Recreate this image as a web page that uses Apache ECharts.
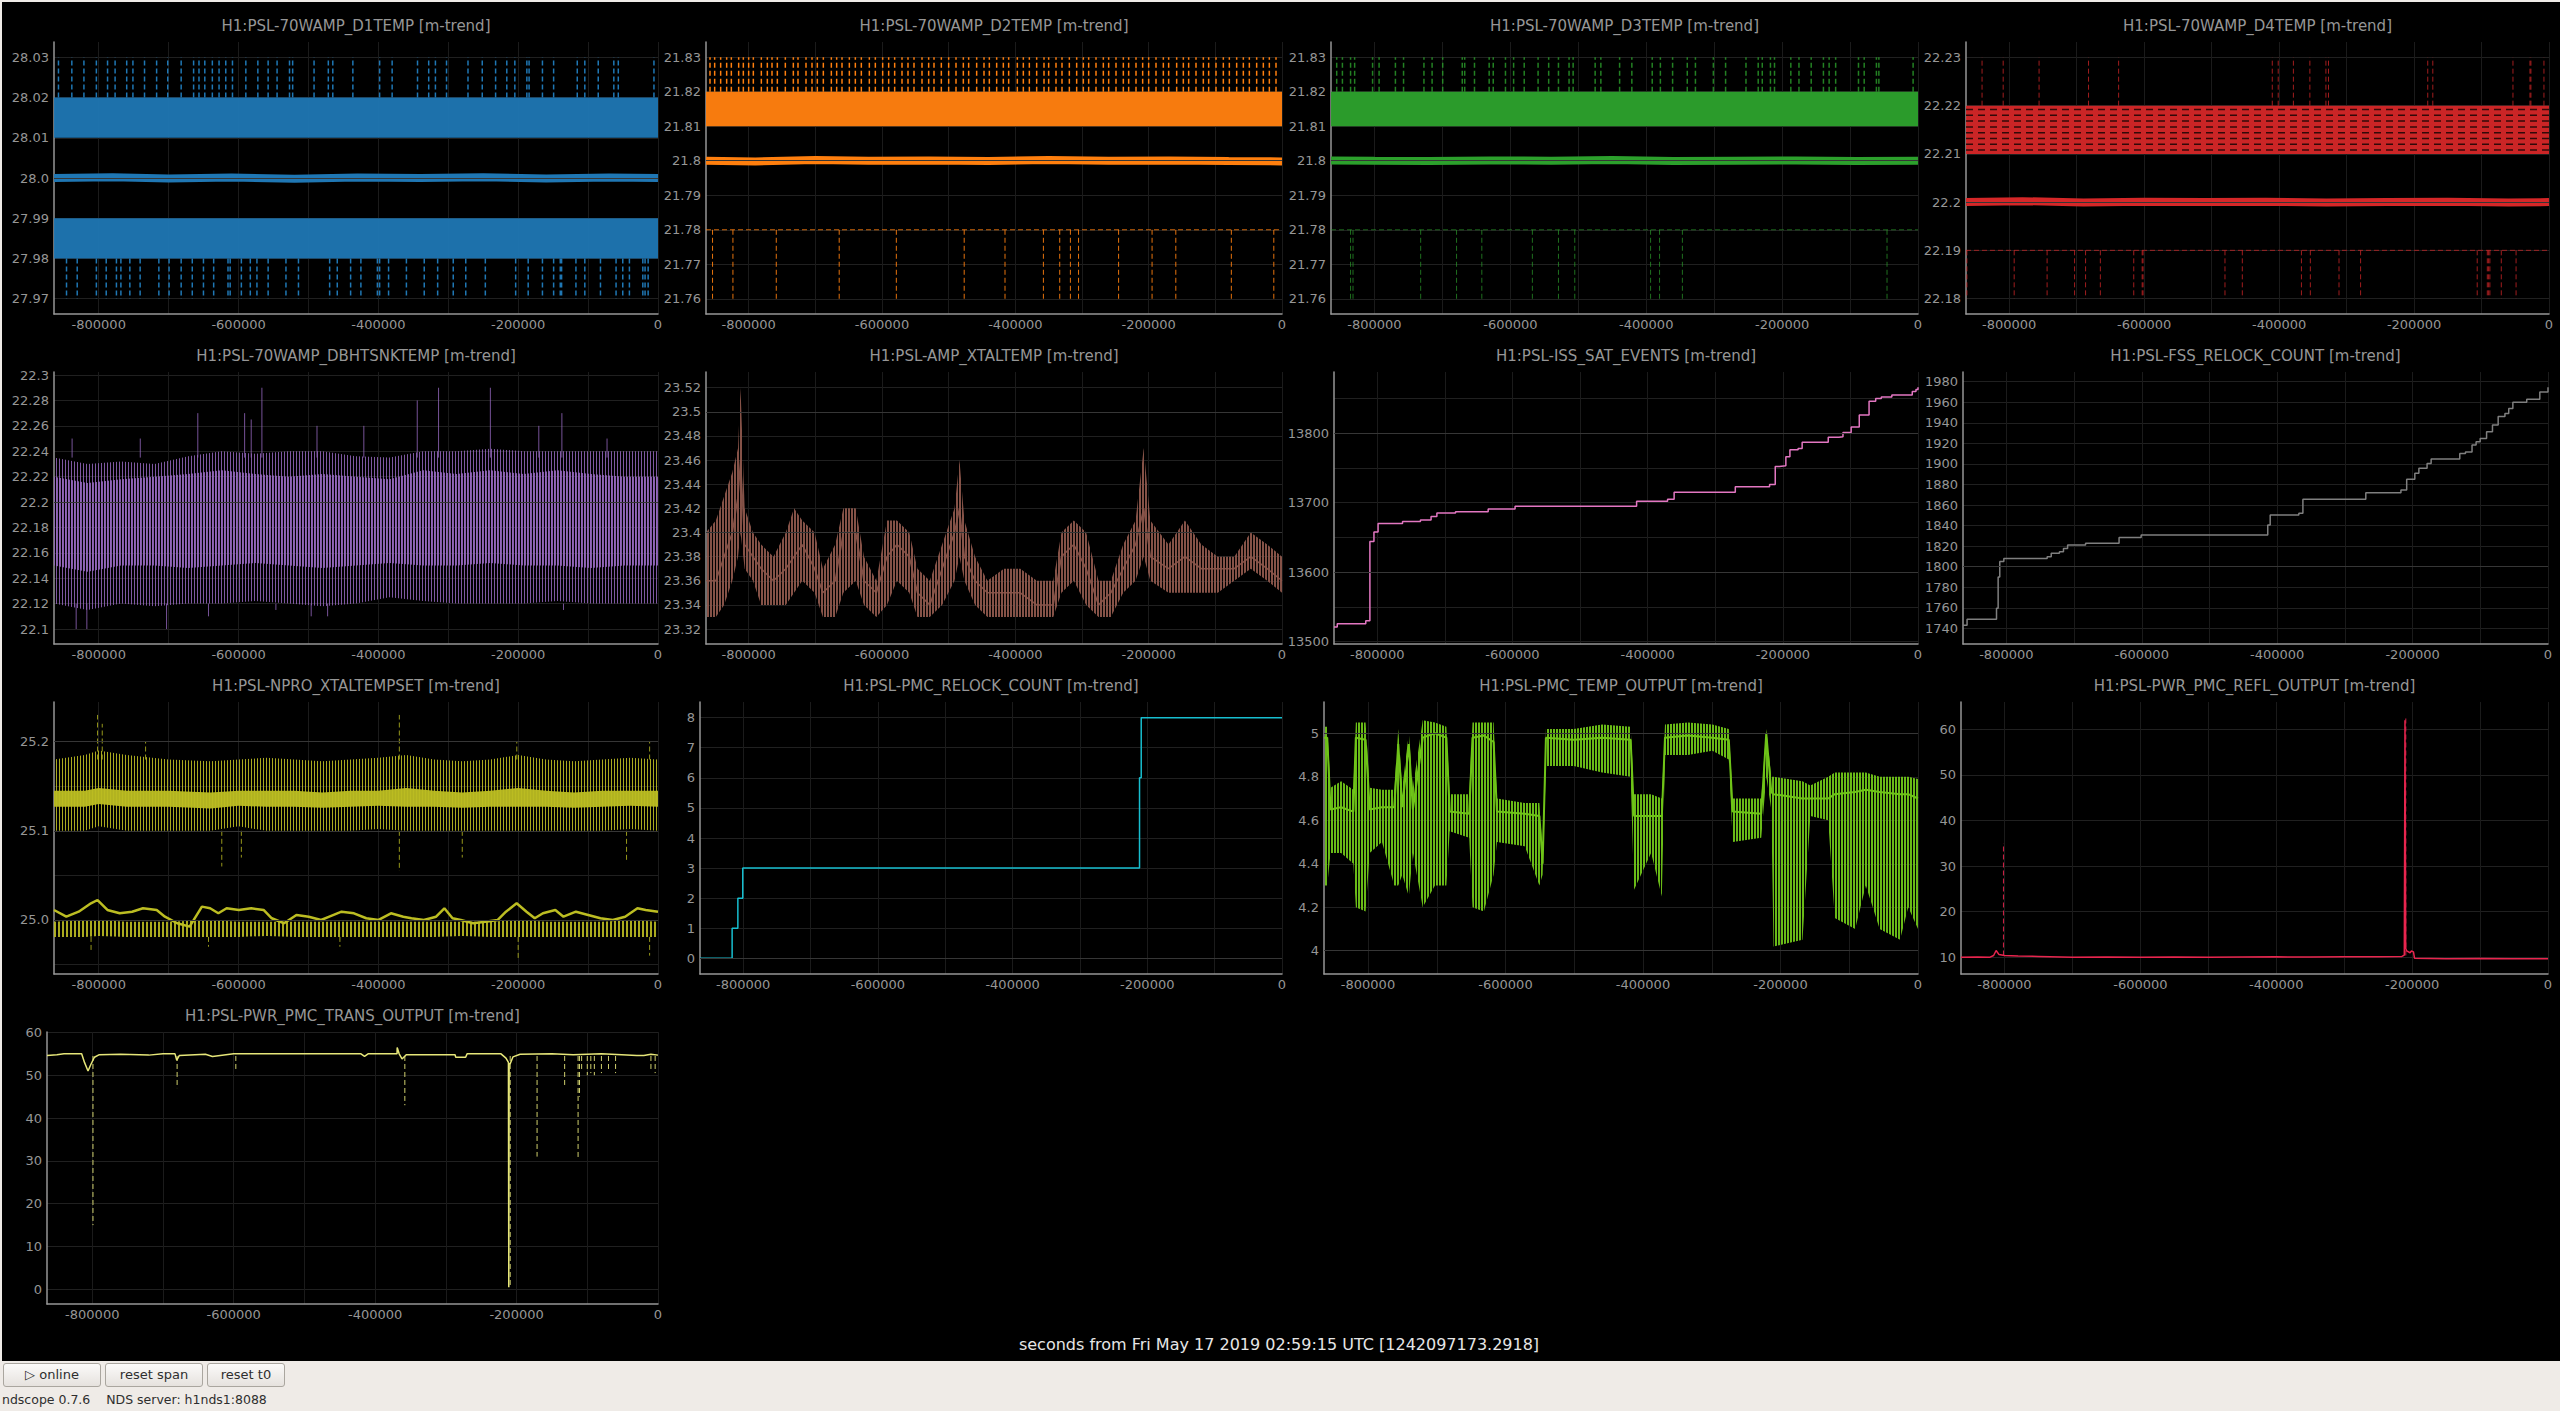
<!DOCTYPE html>
<html>
<head>
<meta charset="utf-8">
<title>ndscope</title>
<script src="https://cdn.jsdelivr.net/npm/echarts@6/dist/echarts.min.js"></script>
<style>
html, body { margin: 0; padding: 0; background: #efebe7; overflow: hidden; width: 2560px; height: 1411px; }
#chart { position: absolute; left: 2px; top: 2px; width: 2558px; height: 1359px; background: #000; }
#bar { position: absolute; left: 0; top: 1361px; width: 2560px; height: 50px; font-family: "DejaVu Sans", sans-serif; font-size: 13px; color: #2e2e2e; }
.btn { position: absolute; top: 2px; height: 24px; line-height: 22px; text-align: center; box-sizing: border-box;
       border: 1px solid #aaa69f; border-radius: 3px; background: linear-gradient(#fbfaf9, #e6e2de); }
#status { position: absolute; left: 2px; top: 31px; font-size: 12.5px; white-space: pre; }
</style>
</head>
<body>
<div id="chart"></div>
<div id="bar">
  <div class="btn" style="left:3px;width:98px">&#9655; online</div>
  <div class="btn" style="left:105px;width:98px">reset span</div>
  <div class="btn" style="left:207px;width:78px">reset t0</div>
  <div id="status">ndscope 0.7.6    NDS server: h1nds1:8088</div>
</div>
<script>
// time span: last 10 days, seconds from t0
const XMIN = -864000, XMAX = 0;
const xTicks = [-800000, -600000, -400000, -200000, 0];
const xGrid = [-800000, -700000, -600000, -500000, -400000, -300000, -200000, -100000, 0];

const titles = [
    'H1:PSL-70WAMP_D1TEMP [m-trend]', 'H1:PSL-70WAMP_D2TEMP [m-trend]',
    'H1:PSL-70WAMP_D3TEMP [m-trend]', 'H1:PSL-70WAMP_D4TEMP [m-trend]',
    'H1:PSL-70WAMP_DBHTSNKTEMP [m-trend]', 'H1:PSL-AMP_XTALTEMP [m-trend]',
    'H1:PSL-ISS_SAT_EVENTS [m-trend]', 'H1:PSL-FSS_RELOCK_COUNT [m-trend]',
    'H1:PSL-NPRO_XTALTEMPSET [m-trend]', 'H1:PSL-PMC_RELOCK_COUNT [m-trend]',
    'H1:PSL-PMC_TEMP_OUTPUT [m-trend]', 'H1:PSL-PWR_PMC_REFL_OUTPUT [m-trend]',
    'H1:PSL-PWR_PMC_TRANS_OUTPUT [m-trend]'
];
const xLabel = 'seconds from Fri May 17 2019 02:59:15 UTC [1242097173.2918]';

// y tick labels per panel
const y1Ticks = [27.97, 27.98, 27.99, 28.0, 28.01, 28.02, 28.03];
const y2Ticks = [21.76, 21.77, 21.78, 21.79, 21.8, 21.81, 21.82, 21.83];
const y3Ticks = [21.76, 21.77, 21.78, 21.79, 21.8, 21.81, 21.82, 21.83];
const y4Ticks = [22.18, 22.19, 22.2, 22.21, 22.22, 22.23];
const y5Ticks = [22.1, 22.12, 22.14, 22.16, 22.18, 22.2, 22.22, 22.24, 22.26, 22.28, 22.3];
const y6Ticks = [23.32, 23.34, 23.36, 23.38, 23.4, 23.42, 23.44, 23.46, 23.48, 23.5, 23.52];
const y7Ticks = [13500, 13600, 13700, 13800];
const y8Ticks = [1740, 1760, 1780, 1800, 1820, 1840, 1860, 1880, 1900, 1920, 1940, 1960, 1980];
const y9Ticks = [25.0, 25.1, 25.2];
const y10Ticks = [0, 1, 2, 3, 4, 5, 6, 7, 8];
const y11Ticks = [4, 4.2, 4.4, 4.6, 4.8, 5];
const y12Ticks = [10, 20, 30, 40, 50, 60];
const y13Ticks = [0, 10, 20, 30, 40, 50, 60];
// fainter half-step grid lines and brighter major grid lines
const y7Minor = [13550, 13650, 13750, 13850];
const y9Minor = [24.95, 25.05, 25.15];
const yMajor = [[28.0], [21.8], [21.8], [22.2], [22.2], [23.4, 23.5], [13600, 13800], [1800], [25.0, 25.1, 25.2],
    [0], [4, 5], [], []];

// ---- D1TEMP
const d1MaxBand = [28.01, 28.02];
const d1MinBand = [27.98, 27.99];
const d1Mean = [[-864000, 28.0], [-780000, 28.0002], [-700000, 27.9999], [-610000, 28.0001], [-520000, 27.9998],
    [-430000, 28.0001], [-340000, 28.0], [-250000, 28.0002], [-160000, 27.9999], [-70000, 28.0001], [0, 28.0]];
const d1UpSpikes = [-857600, -838500, -821200, -803400, -787400, -776600, -760000, -751100, -734500, -717200,
    -701300, -682100, -664300, -656600, -648300, -637500, -627900, -618300, -608700, -589600, -572400, -557700,
    -544900, -527100, -522600, -492000, -471600, -465200, -436500, -398200, -380300, -344000, -328000, -318400,
    -302500, -271800, -251400, -232300, -216300, -204800, -187600, -184400, -165300, -149300, -115500, -104700,
    -85500, -63200, -56800, -5800];
const d1DownSpikes = [-846100, -830800, -803400, -789300, -774700, -768300, -755500, -740800, -714000, -699400,
    -682100, -666200, -650200, -635600, -615100, -612000, -596000, -583200, -573700, -557700, -532200, -514300,
    -469700, -458800, -439700, -425000, -401400, -398200, -385400, -359900, -334400, -315200, -292900, -275000,
    -247000, -203600, -185700, -165300, -149300, -139800, -137900, -117400, -104700, -82300, -60000, -50400,
    -40900, -21700, -18500, -14100];

// ---- D2TEMP
const d2MaxBand = [21.81, 21.82];
const d2Top = 21.83;
const d2MinLevel = 21.78;
const d2Bottom = 21.76;
const d2Mean = [[-864000, 21.8], [-790000, 21.7998], [-700000, 21.8002], [-620000, 21.8], [-530000, 21.8001],
    [-440000, 21.7999], [-350000, 21.8002], [-260000, 21.8], [-170000, 21.8001], [-80000, 21.7999], [0, 21.7998]];
const d2UpSpikes = [-858000, -851000, -842000, -833000, -826000, -815000, -808000, -800000, -793000, -781000,
    -772000, -765000, -757000, -745000, -733000, -726000, -714000, -705000, -697000, -688000, -676000, -668000,
    -660000, -649000, -640000, -631000, -619000, -610000, -599000, -590000, -581000, -570000, -561000, -552000,
    -540000, -530000, -522000, -511000, -500000, -489000, -478000, -470000, -458000, -447000, -439000, -428000,
    -418000, -410000, -397000, -388000, -379000, -368000, -357000, -350000, -339000, -330000, -319000, -308000,
    -298000, -290000, -279000, -268000, -260000, -249000, -238000, -230000, -219000, -209000, -200000, -189000,
    -178000, -170000, -158000, -148000, -140000, -129000, -118000, -110000, -99000, -88000, -79000, -68000,
    -58000, -49000, -38000, -28000, -19000, -9000];
const d2DownSpikes = [-854200, -823600, -758600, -664200, -578500, -476700, -415500, -357900, -333400, -317400,
    -305200, -245100, -194900, -159300, -76000, -12300];

// ---- D3TEMP
const d3MaxBand = [21.81, 21.82];
const d3Top = 21.83;
const d3MinLevel = 21.78;
const d3Bottom = 21.76;
const d3Mean = [[-864000, 21.8001], [-800000, 21.8], [-720000, 21.7999], [-630000, 21.8001], [-540000, 21.8],
    [-450000, 21.8002], [-360000, 21.7999], [-270000, 21.8], [-180000, 21.8001], [-90000, 21.7999], [0, 21.8]];
const d3UpSpikes = [-855600, -847200, -835200, -829200, -802800, -793200, -769200, -757200, -727200, -715200,
    -699600, -670800, -667200, -652800, -631200, -625200, -607200, -595200, -579600, -559200, -543600, -529200,
    -513600, -507600, -475200, -466800, -439200, -421200, -391200, -379200, -361200, -339600, -327600, -301200,
    -283200, -253200, -235200, -229200, -217200, -211200, -187200, -175200, -157200, -139200, -130800, -121200,
    -87600, -79200, -61200, -57600, -7200];
const d3DownSpikes = [-835200, -831600, -732000, -679200, -642000, -567600, -529200, -505200, -393600, -380400,
    -346800, -45600];

// ---- D4TEMP
const d4MaxBand = [22.21, 22.22];
const d4Top = 22.23;
const d4MinLevel = 22.19;
const d4Bottom = 22.18;
const d4Mean = [[-864000, 22.2], [-780000, 22.2002], [-690000, 22.1999], [-600000, 22.2001], [-510000, 22.2],
    [-420000, 22.2001], [-330000, 22.1999], [-240000, 22.2], [-150000, 22.2001], [-60000, 22.1999], [0, 22.2]];
const d4UpSpikes = [-840200, -808900, -755700, -682400, -637800, -410100, -401300, -378800, -354400, -330600,
    -326800, -179700, -172200, -53400, -28200, -26800, -7500];
const d4DownSpikes = [-862700, -792600, -743800, -703100, -686800, -664900, -615400, -602900, -601600, -480200,
    -454500, -366900, -353700, -311200, -279200, -106400, -91400, -89500, -87600, -70700, -48800];
// rows of gaps seen inside the D4 max band
const d4BandGaps = [22.2192, 22.2180, 22.2168, 22.2156, 22.2144, 22.2132, 22.2120, 22.2108];

// ---- DBHTSNKTEMP
const p5X = [-864000, -816000, -768000, -720000, -672000, -624000, -576000, -528000, -480000, -432000,
    -384000, -336000, -288000, -240000, -192000, -144000, -96000, -48000, 0];
const p5Hi = [22.235, 22.23, 22.232, 22.23, 22.236, 22.24, 22.238, 22.24, 22.24, 22.236,
    22.235, 22.24, 22.24, 22.242, 22.24, 22.24, 22.24, 22.24, 22.24];
const p5Lo = [22.12, 22.115, 22.12, 22.118, 22.12, 22.12, 22.122, 22.12, 22.118, 22.12,
    22.125, 22.122, 22.12, 22.12, 22.12, 22.122, 22.12, 22.12, 22.12];
const p5CoreHi = [22.22, 22.215, 22.218, 22.22, 22.222, 22.225, 22.222, 22.22, 22.222, 22.22,
    22.218, 22.225, 22.222, 22.225, 22.222, 22.225, 22.222, 22.22, 22.22];
const p5CoreLo = [22.15, 22.145, 22.15, 22.15, 22.148, 22.15, 22.152, 22.15, 22.148, 22.15,
    22.152, 22.15, 22.15, 22.152, 22.15, 22.15, 22.148, 22.15, 22.15];
const p5UpSpikes = [[-838100, 22.25], [-740600, 22.25], [-658300, 22.27], [-591300, 22.27], [-581900, 22.265],
    [-566600, 22.29], [-487800, 22.26], [-420800, 22.26], [-344400, 22.28], [-313900, 22.29], [-239800, 22.29],
    [-170500, 22.26], [-137500, 22.27], [-72900, 22.25]];
const p5DownSpikes = [[-832300, 22.10], [-817000, 22.10], [-703000, 22.10], [-643000, 22.11], [-546600, 22.115],
    [-496100, 22.11], [-472600, 22.11], [-135200, 22.115]];

// ---- AMP_XTALTEMP
const p6X = [-864000, -849200, -836800, -824500, -815900, -812200, -806000, -793600, -781300, -762800,
    -744300, -731900, -719600, -701100, -688700, -670200, -657900, -639400, -627000, -608500,
    -592500, -577600, -559100, -546800, -528300, -509800, -491200, -483800, -476400, -460400,
    -441900, -417200, -392500, -367800, -343100, -330800, -312300, -293800, -275200, -256700,
    -238200, -219700, -207400, -197500, -170300, -145600, -121000, -96300, -71600, -46900, -22200, 0];
const p6Lo = [23.33, 23.33, 23.34, 23.36, 23.38, 23.40, 23.37, 23.36, 23.34, 23.34,
    23.34, 23.35, 23.36, 23.35, 23.33, 23.33, 23.35, 23.36, 23.34, 23.33,
    23.34, 23.36, 23.35, 23.33, 23.33, 23.34, 23.36, 23.38, 23.36, 23.34,
    23.33, 23.33, 23.33, 23.33, 23.33, 23.35, 23.36, 23.34, 23.33, 23.33,
    23.35, 23.36, 23.38, 23.36, 23.35, 23.35, 23.35, 23.35, 23.36, 23.37, 23.36, 23.35];
const p6Hi = [23.40, 23.41, 23.43, 23.45, 23.47, 23.52, 23.42, 23.40, 23.39, 23.38,
    23.40, 23.42, 23.41, 23.40, 23.37, 23.39, 23.42, 23.42, 23.38, 23.36,
    23.41, 23.41, 23.40, 23.37, 23.36, 23.39, 23.42, 23.46, 23.41, 23.38,
    23.36, 23.37, 23.37, 23.36, 23.36, 23.40, 23.41, 23.40, 23.36, 23.36,
    23.39, 23.41, 23.47, 23.41, 23.39, 23.41, 23.39, 23.38, 23.38, 23.40, 23.39, 23.38];
const p6Mean = [23.36, 23.36, 23.38, 23.40, 23.43, 23.46, 23.39, 23.38, 23.37, 23.36,
    23.37, 23.38, 23.39, 23.37, 23.35, 23.36, 23.40, 23.40, 23.36, 23.35,
    23.38, 23.39, 23.38, 23.35, 23.34, 23.37, 23.40, 23.42, 23.38, 23.36,
    23.35, 23.35, 23.35, 23.34, 23.34, 23.38, 23.39, 23.37, 23.34, 23.35,
    23.37, 23.39, 23.42, 23.38, 23.37, 23.38, 23.37, 23.37, 23.37, 23.38, 23.37, 23.36];

// ---- ISS_SAT_EVENTS (cumulative)
const p7Steps = [[-864000, 13521], [-859200, 13526], [-817000, 13530], [-810900, 13644], [-804900, 13658],
    [-798800, 13670], [-762600, 13673], [-736100, 13675], [-720400, 13680], [-711800, 13685], [-684200, 13687],
    [-635900, 13691], [-596100, 13695], [-416300, 13702], [-370500, 13705], [-360800, 13715], [-270300, 13723],
    [-219600, 13726], [-211200, 13752], [-205100, 13753], [-195500, 13766], [-189500, 13776], [-177400, 13778],
    [-171400, 13787], [-132800, 13794], [-117100, 13795], [-111000, 13801], [-98900, 13809], [-86900, 13826],
    [-72400, 13846], [-62600, 13850], [-54300, 13852], [-38700, 13855], [-8500, 13860], [-3000, 13863], [0, 13866]];

// ---- FSS_RELOCK_COUNT (cumulative)
const p8Steps = [[-864000, 1743], [-858000, 1748.8], [-814500, 1759.5], [-812100, 1790], [-809700, 1805],
    [-803700, 1808], [-739700, 1809.7], [-733700, 1813], [-721600, 1814.6], [-715600, 1817.8], [-709500, 1821],
    [-683000, 1822.7], [-633500, 1828.5], [-600900, 1830.8], [-413900, 1840.5], [-410300, 1850.3], [-368000, 1851.9],
    [-362000, 1865.5], [-269100, 1872], [-217200, 1874.6], [-208700, 1885], [-196700, 1890.8], [-190700, 1895.7],
    [-178600, 1900.5], [-172600, 1904.7], [-130300, 1910], [-121900, 1911.6], [-112200, 1918.4], [-106200, 1921.6],
    [-100200, 1924.8], [-90700, 1931.3], [-82000, 1937.8], [-73600, 1946], [-63600, 1949], [-58000, 1954],
    [-51900, 1960], [-31400, 1962.8], [-12100, 1970], [0, 1974.5]];

// ---- NPRO_XTALTEMPSET
const p9X = [-864000, -820000, -800000, -760000, -700000, -640000, -600000, -560000, -520000, -480000, -440000,
    -400000, -360000, -320000, -280000, -240000, -200000, -160000, -120000, -80000, -40000, 0];
const p9Hi = [25.18, 25.185, 25.19, 25.185, 25.18, 25.178, 25.18, 25.182, 25.18, 25.178, 25.18,
    25.182, 25.185, 25.18, 25.178, 25.18, 25.185, 25.18, 25.178, 25.18, 25.182, 25.18];
const p9Lo = [25.10, 25.10, 25.105, 25.10, 25.10, 25.10, 25.105, 25.10, 25.10, 25.10, 25.10,
    25.102, 25.10, 25.10, 25.10, 25.10, 25.10, 25.10, 25.10, 25.10, 25.102, 25.10];
const p9CoreHi = [25.145, 25.145, 25.148, 25.145, 25.145, 25.143, 25.145, 25.145, 25.145, 25.143, 25.145,
    25.145, 25.148, 25.145, 25.143, 25.145, 25.148, 25.145, 25.143, 25.145, 25.145, 25.145];
const p9CoreLo = [25.127, 25.127, 25.13, 25.127, 25.127, 25.125, 25.128, 25.127, 25.127, 25.126, 25.127,
    25.128, 25.127, 25.127, 25.126, 25.127, 25.127, 25.127, 25.126, 25.127, 25.128, 25.127];
const p9LowHi = [24.998, 25.0, 25.0, 24.998, 24.998, 25.0, 24.998, 24.998, 24.998, 24.998, 24.998,
    24.998, 24.998, 24.998, 24.998, 24.998, 25.0, 24.998, 24.998, 24.998, 25.0, 24.998];
const p9LowLo = [24.981, 24.981, 24.982, 24.981, 24.981, 24.981, 24.981, 24.982, 24.981, 24.981, 24.981,
    24.981, 24.981, 24.981, 24.982, 24.981, 24.981, 24.981, 24.981, 24.981, 24.981, 24.981];
const p9Mean = [[-864000, 25.0112], [-846400, 25.0037], [-828700, 25.0093], [-811100, 25.0187], [-801700, 25.0224],
    [-787600, 25.0112], [-770000, 25.0075], [-752300, 25.0093], [-736700, 25.0131], [-717100, 25.0112],
    [-705300, 25.0037], [-687700, 24.9963], [-670000, 24.9925], [-652400, 25.0150], [-640700, 25.0131],
    [-628900, 25.0075], [-617100, 25.0131], [-599500, 25.0112], [-581900, 25.0131], [-564200, 25.0112],
    [-552500, 25.0019], [-534900, 24.9963], [-517200, 25.0056], [-499600, 25.0037], [-481900, 25.0],
    [-470200, 25.0037], [-452600, 25.0093], [-434900, 25.0075], [-417300, 25.0019], [-399700, 25.0],
    [-382000, 25.0075], [-364400, 25.0037], [-352700, 25.0019], [-335000, 25.0], [-317400, 25.0037],
    [-305600, 25.0131], [-293900, 25.0019], [-282100, 25.0], [-264500, 24.9963], [-246900, 24.9981],
    [-229200, 25.0], [-217500, 25.0093], [-202200, 25.0187], [-188100, 25.0093], [-176300, 25.0019],
    [-164600, 25.0075], [-146900, 25.0112], [-135200, 25.0037], [-117400, 25.0093], [-99900, 25.0056],
    [-82300, 25.0019], [-64700, 25.0], [-47000, 25.0037], [-29400, 25.0131], [-17600, 25.0112], [0, 25.0093]];
const p9UpSpikes = [[-801700, 25.23], [-795000, 25.22], [-733000, 25.20], [-370000, 25.23], [-202000, 25.20], [-12000, 25.20]];
const p9DownSpikes = [[-624000, 25.06], [-596000, 25.07], [-370000, 25.055], [-280000, 25.07], [-45000, 25.065]];
const p9LowSpikes = [[-811000, 24.965], [-643000, 24.97], [-455000, 24.97], [-200000, 24.955], [-12000, 24.96]];

// ---- PMC_RELOCK_COUNT
const p10Steps = [[-864000, 0], [-816300, 1], [-807800, 2], [-800500, 3], [-211500, 6], [-209000, 8], [0, 8]];

// ---- PMC_TEMP_OUTPUT
const p11X = [-864000, -859300, -854500, -839100, -821300, -817700, -803500, -797500, -779700, -761800,
    -756000, -750100, -740600, -734700, -720400, -702600, -686000, -681200, -652800, -648000,
    -631400, -617300, -612400, -572000, -550700, -546000, -541200, -500800, -459300, -418000,
    -413000, -388200, -372600, -368000, -334700, -299100, -275200, -269500, -228000, -220700,
    -213400, -210100, -168000, -156600, -130600, -121100, -91400, -75900, -55800, -26100, -14200, 0];
const p11Lo = [4.30, 4.30, 4.45, 4.45, 4.40, 4.20, 4.18, 4.45, 4.50, 4.30,
    4.30, 4.35, 4.25, 4.45, 4.20, 4.30, 4.30, 4.55, 4.52, 4.20,
    4.18, 4.35, 4.50, 4.48, 4.30, 4.35, 4.85, 4.85, 4.82, 4.80,
    4.28, 4.45, 4.25, 4.90, 4.90, 4.92, 4.88, 4.50, 4.52, 4.80,
    4.65, 4.02, 4.05, 4.62, 4.60, 4.15, 4.10, 4.30, 4.10, 4.05, 4.20, 4.10];
const p11Mean = [4.98, 4.98, 4.65, 4.66, 4.64, 4.98, 4.97, 4.65, 4.66, 4.66,
    4.95, 4.66, 4.95, 4.65, 4.98, 5.00, 4.98, 4.64, 4.63, 4.98,
    4.99, 4.96, 4.64, 4.63, 4.62, 4.40, 4.98, 4.97, 4.98, 4.97,
    4.62, 4.62, 4.62, 4.98, 4.99, 4.98, 4.97, 4.64, 4.63, 5.00,
    4.73, 4.72, 4.70, 4.70, 4.70, 4.72, 4.73, 4.74, 4.73, 4.72, 4.72, 4.70];
const p11Hi = [5.03, 5.03, 4.75, 4.78, 4.74, 5.05, 5.05, 4.75, 4.74, 4.74,
    5.02, 4.75, 5.00, 4.75, 5.06, 5.05, 5.03, 4.72, 4.72, 5.05,
    5.05, 5.05, 4.70, 4.68, 4.68, 4.45, 5.02, 5.02, 5.04, 5.03,
    4.72, 4.72, 4.70, 5.04, 5.05, 5.04, 5.02, 4.70, 4.70, 5.02,
    4.80, 4.80, 4.78, 4.76, 4.80, 4.82, 4.82, 4.82, 4.80, 4.80, 4.80, 4.79];

// ---- PWR_PMC_REFL_OUTPUT
const p12Mean = [[-864000, 10.0], [-840000, 10.05], [-822000, 10.0], [-816000, 10.4], [-812300, 11.5],
    [-808000, 10.6], [-800000, 10.4], [-780000, 10.3], [-750000, 10.2], [-700000, 10.0], [-650000, 10.05],
    [-600000, 10.0], [-550000, 10.05], [-500000, 10.0], [-450000, 10.05], [-400000, 10.1], [-350000, 10.05],
    [-300000, 10.1], [-250000, 10.1], [-215000, 10.2], [-211500, 10.5], [-210500, 62], [-209500, 12],
    [-208000, 11.4], [-203000, 11.0], [-201000, 11.4], [-198000, 11.2], [-196500, 9.8], [-150000, 9.7],
    [-100000, 9.75], [-50000, 9.7], [0, 9.7]];
const p12Spikes = [[-801500, 35], [-209300, 63]];

// ---- PWR_PMC_TRANS_OUTPUT
const p13Mean = [[-864000, 54.6], [-850000, 54.8], [-840000, 55.0], [-815000, 55.0], [-811000, 53.0],
    [-806000, 51.0], [-802000, 52.5], [-797000, 54.2], [-790000, 54.8], [-760000, 54.9], [-720000, 54.7],
    [-700000, 55.0], [-683000, 55.0], [-680500, 53.5], [-677000, 54.6], [-640000, 54.9], [-630000, 54.4],
    [-600000, 55.0], [-500000, 55.0], [-420000, 55.0], [-415000, 54.4], [-410000, 55.0], [-369000, 55.0],
    [-368800, 56.5], [-366000, 55.0], [-362000, 53.8], [-356000, 54.8], [-300000, 54.8], [-287000, 54.8],
    [-286000, 54.2], [-272000, 54.2], [-270000, 55.0], [-222000, 55.0], [-215000, 54.0], [-211500, 53.0],
    [-211000, 0.5], [-210500, 52.7], [-209000, 52.7], [-205000, 54.3], [-195000, 54.9], [-150000, 55.0],
    [-120000, 54.8], [-80000, 55.0], [-30000, 54.6], [-20000, 54.6], [-10000, 54.9], [0, 54.7]];
const p13Spikes = [[-799000, 15], [-680000, 47], [-597000, 51], [-358000, 43], [-209000, 1], [-171000, 31],
    [-132000, 47.5], [-113000, 30.5], [-111000, 45], [-108000, 51], [-100000, 50], [-95000, 50.5], [-90000, 50],
    [-80000, 50.5], [-70000, 51], [-60000, 50.5], [-10000, 51], [-4000, 50.5]];

// ---- layout (plot boxes inside the chart div) and axes
const colors = ['#1f77b4', '#ff7f0e', '#2ca02c', '#d62728', '#9467bd', '#8c564b', '#e377c2', '#7f7f7f',
    '#bcbd22', '#17becf', '#6fc418', '#e8254e', '#e6e679'];
const boxes = [[52, 40, 604], [704, 40, 576], [1329, 40, 587], [1964, 40, 583],
    [52, 370, 604], [704, 370, 576], [1332, 370, 584], [1961, 370, 585],
    [52, 700, 604], [698, 700, 582], [1322, 700, 594], [1959, 700, 587],
    [45, 1030, 611]];
const PLOT_H = 272;
const yRanges = [
    {min: 27.9662, max: 28.0338, ticks: y1Ticks, dot0: true},
    {min: 21.7556, max: 21.8344, ticks: y2Ticks},
    {min: 21.7556, max: 21.8344, ticks: y3Ticks},
    {min: 22.1768, max: 22.2332, ticks: y4Ticks},
    {min: 22.0882, max: 22.3024, ticks: y5Ticks},
    {min: 23.3076, max: 23.533, ticks: y6Ticks},
    {min: 13496.7, max: 13888, ticks: y7Ticks, grid: y7Ticks.concat(y7Minor)},
    {min: 1724.8, max: 1989.4, ticks: y8Ticks},
    {min: 24.9394, max: 25.2445, ticks: y9Ticks, dot0: true, grid: y9Ticks.concat(y9Minor)},
    {min: -0.52, max: 8.52, ticks: y10Ticks},
    {min: 3.893, max: 5.144, ticks: y11Ticks},
    {min: 6.34, max: 66, ticks: y12Ticks},
    {min: -3.42, max: 60.1, ticks: y13Ticks}
];

const AXIS = '#969696';
const FONT = 'DejaVu Sans';

function yfmt(dot0) {
    return v => {
        let s = String(+(+v).toFixed(4));
        if (dot0 && s.indexOf('.') < 0) s += '.0';
        return s;
    };
}

// vertical stripe fill, to mimic densely packed min/max traces
function stripes(color, on, off) {
    const c = document.createElement('canvas');
    c.width = on + off;
    c.height = 4;
    const g = c.getContext('2d');
    g.fillStyle = color;
    g.fillRect(0, 0, on, 4);
    return {image: c, repeat: 'repeat', imageWidth: on + off, imageHeight: 4};
}

const series = [];
function put(p, s) {
    series.push(Object.assign({type: 'line', xAxisIndex: p, yAxisIndex: p, symbol: 'none',
        silent: true, animation: false}, s));
}
function trace(p, data, width, opts) {
    opts = opts || {};
    put(p, {data: data, step: opts.step || false, lineStyle: {color: opts.color || colors[p], width: width,
        type: opts.dashed ? (opts.dash || [5, 3]) : 'solid', opacity: opts.opacity == null ? 1 : opts.opacity}});
}
// min/max envelope drawn as one filled polygon, positioned through the axes
function band(p, xs, lo, hi, opacity, fill) {
    put(p, {
        type: 'custom', clip: true,
        data: xs.map((x, k) => [x, lo[k], hi[k]]),
        encode: {x: 0, y: [1, 2]},
        renderItem: (params, api) => {
            if (params.dataIndex !== 0) return null;
            const top = xs.map((x, k) => api.coord([x, hi[k]]));
            const bot = xs.map((x, k) => api.coord([x, lo[k]])).reverse();
            return {type: 'polygon', shape: {points: top.concat(bot)},
                style: {fill: fill || colors[p], opacity: opacity}};
        }
    });
}
function flatBand(p, edges, opacity, fill) {
    band(p, [XMIN, XMAX], [edges[0], edges[0]], [edges[1], edges[1]], opacity, fill);
}
function spikes(p, xs, from, to, opts) {
    const data = [];
    xs.forEach(x => { data.push([x, from], [x, to], [x, '-']); });
    trace(p, data, (opts && opts.width) || 1, Object.assign({dashed: true, opacity: 0.9}, opts));
}
function spikesTo(p, pairs, from, opts) {
    const data = [];
    pairs.forEach(d => { data.push([d[0], from], [d[0], d[1]], [d[0], '-']); });
    trace(p, data, (opts && opts.width) || 1, Object.assign({dashed: true, opacity: 0.9}, opts));
}
function levels(p, ys, width, opts) {
    const data = [];
    ys.forEach(y => { data.push([XMIN, y], [XMAX, y], [XMAX, '-']); });
    trace(p, data, width, Object.assign({dashed: true, opacity: 0.8}, opts));
}

// brighter major grid lines, below the traces
yMajor.forEach((vals, p) => {
    if (!vals.length) return;
    put(p, {data: [], z: 1, markLine: {silent: true, symbol: 'none', animation: false, label: {show: false},
        lineStyle: {color: '#363636', width: 1, type: 'solid'}, data: vals.map(v => ({yAxis: v}))}});
});

// D1
flatBand(0, d1MaxBand, 0.95);
flatBand(0, d1MinBand, 0.95);
spikes(0, d1UpSpikes, d1MaxBand[1], 28.03, {width: 1.5, opacity: 1});
spikes(0, d1DownSpikes, d1MinBand[0], 27.97, {width: 1.5, opacity: 1});
trace(0, d1Mean, 8);
// D2
flatBand(1, d2MaxBand, 0.97);
spikes(1, d2UpSpikes, d2MaxBand[1], d2Top, {width: 1.5, opacity: 1});
levels(1, [d2MinLevel], 1);
spikes(1, d2DownSpikes, d2MinLevel, d2Bottom);
trace(1, d2Mean, 8);
// D3
flatBand(2, d3MaxBand, 0.97);
spikes(2, d3UpSpikes, d3MaxBand[1], d3Top, {width: 1.5, opacity: 0.8});
levels(2, [d3MinLevel], 1, {opacity: 0.6});
spikes(2, d3DownSpikes, d3MinLevel, d3Bottom, {opacity: 0.7});
trace(2, d3Mean, 8);
// D4
flatBand(3, d4MaxBand, 0.95);
levels(3, d4BandGaps, 1.5, {color: '#000', opacity: 0.75, dash: [7, 5]});
spikes(3, d4UpSpikes, d4MaxBand[1], d4Top, {opacity: 0.75});
levels(3, [d4MinLevel], 1, {opacity: 0.7});
spikes(3, d4DownSpikes, d4MinLevel, d4Bottom, {opacity: 0.75});
trace(3, d4Mean, 8);
// DBHTSNK
band(4, p5X, p5Lo, p5Hi, 0.85, stripes(colors[4], 1, 2));
band(4, p5X, p5CoreLo, p5CoreHi, 0.9, stripes(colors[4], 2, 1));
spikesTo(4, p5UpSpikes, 22.235, {opacity: 0.8, dashed: false});
spikesTo(4, p5DownSpikes, 22.12, {opacity: 0.8, dashed: false});
// AMP_XTAL
band(5, p6X, p6Lo, p6Hi, 0.95, stripes(colors[5], 2, 1));
trace(5, p6X.map((x, k) => [x, p6Mean[k]]), 1.5, {opacity: 0.9});
// ISS / FSS
trace(6, p7Steps, 1.5, {step: 'end'});
trace(7, p8Steps, 1.5, {step: 'end'});
// NPRO
band(8, p9X, p9Lo, p9Hi, 0.9, stripes(colors[8], 1, 2));
band(8, p9X, p9CoreLo, p9CoreHi, 0.95);
band(8, p9X, p9LowLo, p9LowHi, 0.9, stripes(colors[8], 2, 2));
spikesTo(8, p9UpSpikes, 25.18, {opacity: 0.8});
spikesTo(8, p9DownSpikes, 25.10, {opacity: 0.8});
spikesTo(8, p9LowSpikes, 24.981, {opacity: 0.8});
trace(8, p9Mean, 2.5);
// PMC relock
trace(9, p10Steps, 1.5, {step: 'end'});
// PMC temp
band(10, p11X, p11Lo, p11Hi, 0.95, stripes(colors[10], 2, 1));
trace(10, p11X.map((x, k) => [x, p11Mean[k]]), 2);
// REFL
spikesTo(11, p12Spikes, 10.4);
trace(11, p12Mean, 1.5);
// TRANS
spikesTo(12, p13Spikes, 54.5);
trace(12, p13Mean, 1.5);

const option = {
    backgroundColor: '#000',
    animation: false,
    title: titles.map((t, p) => ({
        text: t, left: boxes[p][0] + boxes[p][2] / 2, top: boxes[p][1] - 24, textAlign: 'center', padding: 0,
        textStyle: {color: AXIS, fontSize: 15, fontWeight: 'normal', fontFamily: FONT}
    })).concat([{
        text: xLabel, left: 1277, top: 1334, textAlign: 'center', padding: 0,
        textStyle: {color: '#e6e6e6', fontSize: 16, fontWeight: 'normal', fontFamily: FONT}
    }]),
    grid: boxes.map(b => ({left: b[0], top: b[1], width: b[2], height: PLOT_H, containLabel: false, outerBoundsMode: 'none'})),
    xAxis: boxes.map((b, p) => ({
        gridIndex: p, type: 'value', min: XMIN, max: XMAX,
        axisLine: {show: true, onZero: false, lineStyle: {color: AXIS, width: 1.5}},
        axisTick: {show: false, customValues: xGrid},
        axisLabel: {color: AXIS, fontSize: 13, fontFamily: FONT, margin: 4, customValues: xTicks,
            showMinLabel: true, showMaxLabel: true, formatter: v => String(v)},
        splitLine: {show: true, lineStyle: {color: '#1b1b1b', width: 1}}
    })),
    yAxis: yRanges.map((r, p) => ({
        gridIndex: p, type: 'value', min: r.min, max: r.max,
        axisLine: {show: true, onZero: false, lineStyle: {color: AXIS, width: 1.5}},
        axisTick: {show: false, customValues: r.grid || r.ticks},
        axisLabel: {color: AXIS, fontSize: 13, fontFamily: FONT, margin: 5, customValues: r.ticks,
            showMinLabel: true, showMaxLabel: true, formatter: yfmt(r.dot0)},
        splitLine: {show: true, lineStyle: {color: '#202020', width: 1}}
    })),
    series: series
};

const chart = echarts.init(document.getElementById('chart'), null, {renderer: 'svg'});
chart.setOption(option);
</script>
</body>
</html>
